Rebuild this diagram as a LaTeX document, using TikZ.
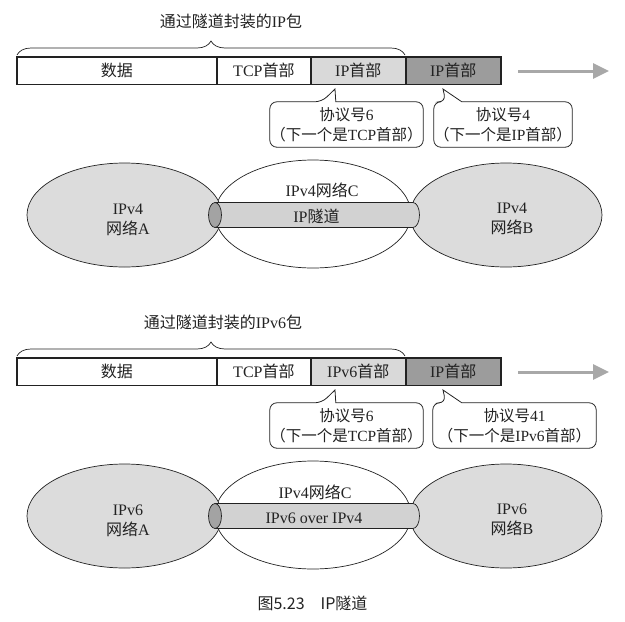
\documentclass[tikz,border=0pt]{standalone}
\usepackage{fontspec}
\setmainfont{Liberation Serif}
\newfontfamily\cjk{Noto Sans CJK SC}
\newcommand\zh[1]{{\cjk #1}}
\usepackage{tikz}
\usetikzlibrary{arrows.meta,positioning,calc,shapes.geometric,decorations.pathreplacing}
\definecolor{Ink}{HTML}{222222}
\definecolor{LightGray}{HTML}{D9D9D9}
\definecolor{DarkGray}{HTML}{9C9C9C}
\definecolor{NetGray}{HTML}{DCDCDC}
\definecolor{PipeGray}{HTML}{D2D2D2}
\definecolor{CapGray}{HTML}{A3A3A3}
\definecolor{ArrowGray}{HTML}{A8A8A8}

\begin{document}
\begin{tikzpicture}[x=1pt,y=-1pt,
    every node/.style={text=Ink,font=\fontsize{16}{20}\selectfont},
    seg/.style={rectangle,draw=Ink,line width=0.9pt,minimum height=26.5pt,inner sep=0pt},
    frame/.style={draw=Ink,line width=1.8pt},
    bubble/.style={draw=Ink,line width=0.8pt,rounded corners=7pt},
    tag/.style={minimum height=45pt,inner sep=0pt,align=center,font=\fontsize{15.5}{20}\selectfont},
    net/.style={ellipse,draw=Ink,line width=0.7pt,inner sep=0pt},
    pipe/.style={draw=Ink,line width=0.7pt,fill=PipeGray},
    brace/.style={decorate,decoration={brace,amplitude=14pt},draw=Ink,line width=0.7pt},
    flow/.style={-{Triangle[length=16pt,width=15pt]},line width=3pt,draw=ArrowGray}
]
\useasboundingbox (0,0) rectangle (625,622);

% IPv4 over IPv4
\node (title) at (231,21) {\zh{通过隧道封装的}IP\zh{包}};
\draw[brace] (17,55) -- (405,55);
\node[seg,minimum width=199.5pt] (data) at (116.75,70.7) {\zh{数据}};
\node[seg,minimum width=93pt,right=0pt of data] (tcp) {TCP\zh{首部}};
\node[seg,minimum width=94pt,fill=LightGray,right=0pt of tcp] (inner) {IP\zh{首部}};
\node[seg,minimum width=94pt,fill=DarkGray,right=0pt of inner] (outer) {IP\zh{首部}};
\draw[frame] (data.north west) rectangle (outer.south east);
\coordinate (go) at (518,71);
\coordinate (gone) at (609,71);
\draw[flow] (go) -- (gone);

\node[tag,minimum width=153pt] (c1) at (346.5,124.5) {\zh{协议号}6\\\zh{（下一个是}TCP\zh{首部）}};
\coordinate (t1) at (335,89);
\draw[bubble] (c1.west) |- ($(c1.north west)+(52,0)$) [sharp corners] -- (t1)
    -- ($(c1.north west)+(66,0)$) [rounded corners=7pt] -| (c1.east) |- (c1.south west) -- cycle;
\node[tag,minimum width=138pt] (c2) at (503,124.5) {\zh{协议号}4\\\zh{（下一个是}IP\zh{首部）}};
\coordinate (t2) at (443,89);
\draw[bubble] (c2.west) |- ($(c2.north west)+(12,0)$) [sharp corners] -- (t2)
    -- ($(c2.north west)+(28,0)$) [rounded corners=7pt] -| (c2.east) |- (c2.south west) -- cycle;

\node[net,fill=white,minimum width=196pt,minimum height=108pt] (netC) at (313,214) {};
\node[net,fill=NetGray,minimum width=195pt,minimum height=104pt] (netA) at (124.5,215) {};
\node[net,fill=NetGray,minimum width=192pt,minimum height=104pt] (netB) at (506,215) {};
\draw[pipe] (215,202.5) -- (413,202.5) arc (-90:90:6.5 and 12.5) -- (215,227.5) -- cycle;
\draw[pipe,fill=CapGray] (215,215) ellipse (6.5 and 12.5);
\node[align=center] (labA) at (128,220) {IPv4\\\zh{网络}A};
\node[align=center] (labB) at (512,219) {IPv4\\\zh{网络}B};
\node (labC) at (322,190) {IPv4\zh{网络}C};
\node (labP) at (316.5,216.5) {IP\zh{隧道}};

% IPv6 over IPv4
\begin{scope}[yshift=-301pt]
\node (title2) at (223,21) {\zh{通过隧道封装的}IPv6\zh{包}};
\draw[brace] (17,55) -- (405,55);
\node[seg,minimum width=199.5pt] (data2) at (116.75,70.7) {\zh{数据}};
\node[seg,minimum width=93pt,right=0pt of data2] (tcp2) {TCP\zh{首部}};
\node[seg,minimum width=94pt,fill=LightGray,right=0pt of tcp2] (inner2) {IPv6\zh{首部}};
\node[seg,minimum width=94pt,fill=DarkGray,right=0pt of inner2] (outer2) {IP\zh{首部}};
\draw[frame] (data2.north west) rectangle (outer2.south east);
\coordinate (go2) at (518,71);
\coordinate (gone2) at (609,71);
\draw[flow] (go2) -- (gone2);

\node[tag,minimum width=153pt] (c3) at (346.5,124.5) {\zh{协议号}6\\\zh{（下一个是}TCP\zh{首部）}};
\coordinate (t3) at (335,89);
\draw[bubble] (c3.west) |- ($(c3.north west)+(52,0)$) [sharp corners] -- (t3)
    -- ($(c3.north west)+(66,0)$) [rounded corners=7pt] -| (c3.east) |- (c3.south west) -- cycle;
\node[tag,minimum width=163pt] (c4) at (514.5,124.5) {\zh{协议号}41\\\zh{（下一个是}IPv6\zh{首部）}};
\coordinate (t4) at (443,89);
\draw[bubble] (c4.west) |- ($(c4.north west)+(13,0)$) [sharp corners] -- (t4)
    -- ($(c4.north west)+(29,0)$) [rounded corners=7pt] -| (c4.east) |- (c4.south west) -- cycle;

\node[net,fill=white,minimum width=196pt,minimum height=108pt] (netC2) at (313,214) {};
\node[net,fill=NetGray,minimum width=195pt,minimum height=104pt] (netA2) at (124.5,215) {};
\node[net,fill=NetGray,minimum width=192pt,minimum height=104pt] (netB2) at (506,215) {};
\draw[pipe] (215,202.5) -- (413,202.5) arc (-90:90:6.5 and 12.5) -- (215,227.5) -- cycle;
\draw[pipe,fill=CapGray] (215,215) ellipse (6.5 and 12.5);
\node[align=center] (labA2) at (128,220) {IPv6\\\zh{网络}A};
\node[align=center] (labB2) at (512,219) {IPv6\\\zh{网络}B};
\node (labC2) at (315,191) {IPv4\zh{网络}C};
\node (labP2) at (314,217) {IPv6 over IPv4};
\end{scope}

\node[font={\cjk\fontsize{16}{18}\selectfont}] (caption) at (312.5,603) {图5.23　IP隧道};
\end{tikzpicture}
\end{document}
